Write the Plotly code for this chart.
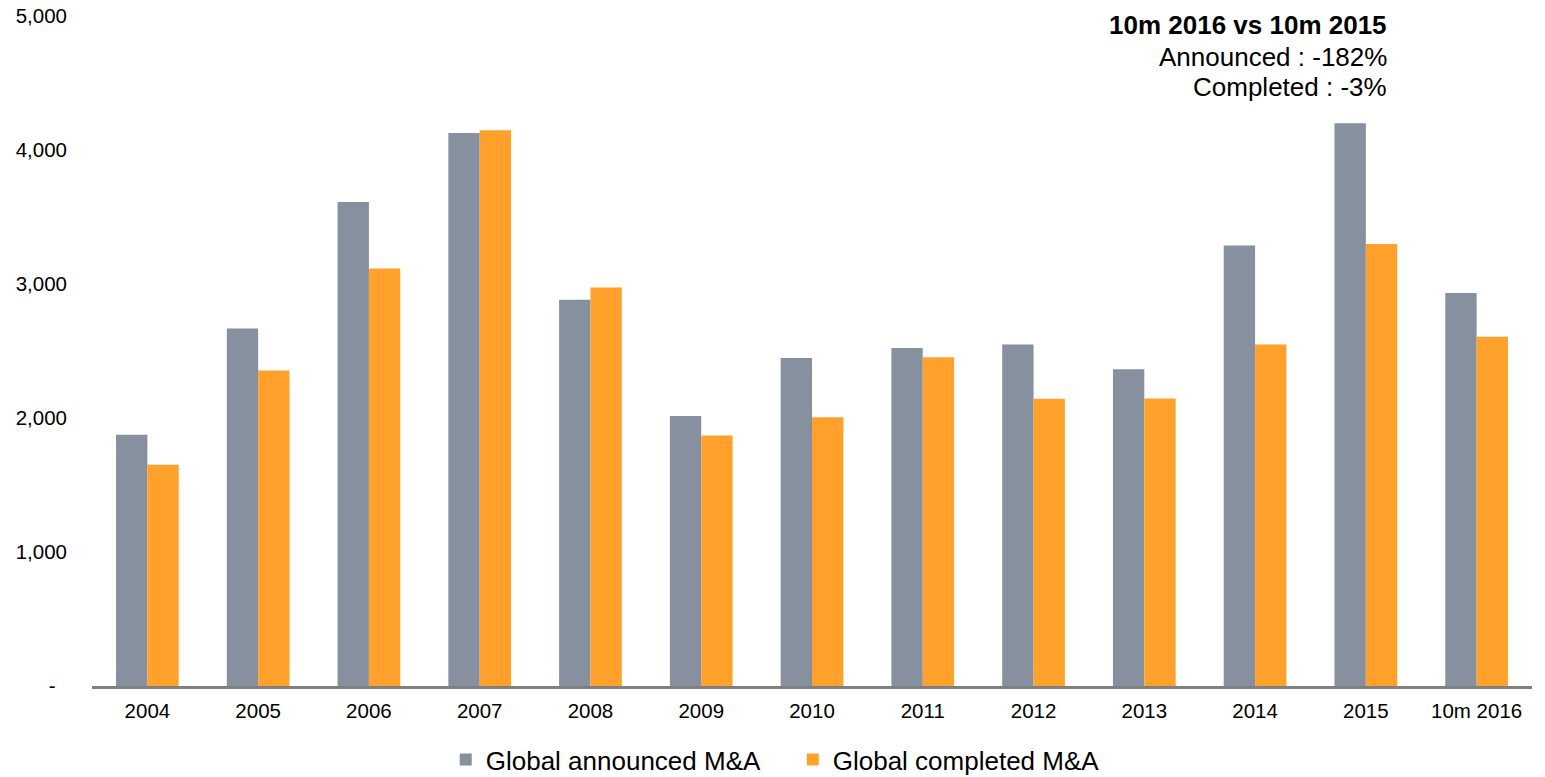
import plotly.graph_objects as go

categories = ["2004", "2005", "2006", "2007", "2008", "2009", "2010",
              "2011", "2012", "2013", "2014", "2015", "10m 2016"]
announced = [1875, 2667, 3612, 4127, 2882, 2014, 2448, 2522, 2548, 2364, 3288, 4200, 2932]
completed = [1652, 2355, 3116, 4147, 2973, 1869, 2005, 2454, 2144, 2145, 2549, 3299, 2607]

y_tickvals = [0, 1000, 2000, 3000, 4000, 5000]
y_ticktext = ["-\u00a0\u00a0", "1,000", "2,000", "3,000", "4,000", "5,000"]

series_names = ["Global announced M&A", "Global completed M&A"]
colors = ["#86909F", "#FFA12A"]

note_title = "10m 2016 vs 10m 2015"
note_lines = ["Announced : -182%", "Completed : -3%"]

FONT = "Arial, 'Liberation Sans', sans-serif"

fig = go.Figure()
fig.add_trace(go.Bar(x=categories, y=announced, name=series_names[0],
                     marker=dict(color=colors[0], line=dict(width=0))))
fig.add_trace(go.Bar(x=categories, y=completed, name=series_names[1],
                     marker=dict(color=colors[1], line=dict(width=0))))

fig.update_layout(
    width=1545, height=777,
    margin=dict(l=92, r=13, t=16, b=91, pad=0, autoexpand=False),
    paper_bgcolor="white", plot_bgcolor="white",
    barmode="group", bargap=0.434, bargroupgap=0,
    font=dict(family=FONT, color="#000000"),
    showlegend=True,
    legend=dict(orientation="h", xref="container", yref="container",
                x=0.2885, xanchor="left", y=0.0225, yanchor="middle",
                font=dict(size=26, family=FONT, color="#000000"),
                itemwidth=30, entrywidth=302, entrywidthmode="pixels",
                bgcolor="rgba(0,0,0,0)", borderwidth=0),
    xaxis=dict(showgrid=False, zeroline=False, showline=True,
               linecolor="#7F7F7F", linewidth=2.5, ticks="",
               tickfont=dict(size=20.5, family=FONT, color="#000000"),
               ticklabelstandoff=5, fixedrange=True, automargin=False),
    yaxis=dict(range=[0, 5000], showgrid=False, zeroline=False, showline=False,
               tickvals=y_tickvals, ticktext=y_ticktext, ticks="",
               tickfont=dict(size=20.5, family=FONT, color="#000000"),
               ticklabelstandoff=24, fixedrange=True, automargin=False),
)

ys = [0.9866, 0.9385, 0.8937]
texts = ["<b>" + note_title + "</b>"] + note_lines
for t, yy in zip(texts, ys):
    fig.add_annotation(text=t, xref="paper", yref="paper", x=0.9, y=yy,
                       xanchor="right", yanchor="middle", showarrow=False,
                       align="right", borderpad=0,
                       font=dict(size=26, family=FONT, color="#000000"))

fig.write_html("out.html")
